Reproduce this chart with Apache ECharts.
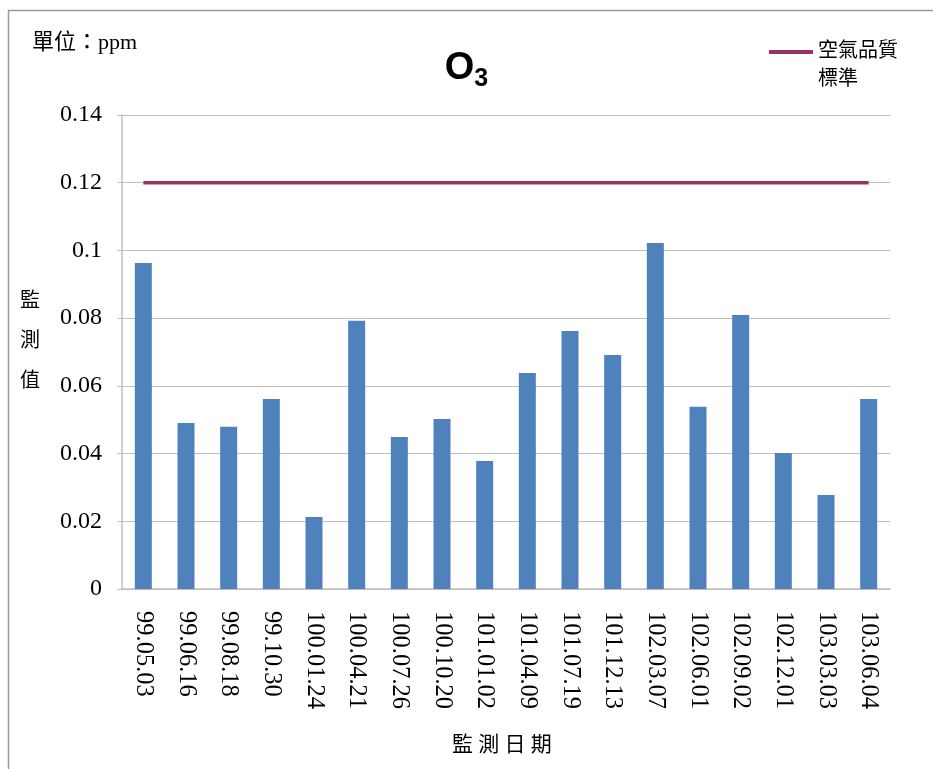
<!DOCTYPE html>
<html><head><meta charset="utf-8">
<script src="https://cdn.jsdelivr.net/npm/echarts@6/dist/echarts.min.js"></script>
<style>html,body{margin:0;padding:0;background:#fff}#c{width:933px;height:769px}</style>
</head><body><div id="c"></div>
<script>
var categories = ['99.05.03','99.06.16','99.08.18','99.10.30','100.01.24','100.04.21','100.07.26','100.10.20','101.01.02','101.04.09','101.07.19','101.12.13','102.03.07','102.06.01','102.09.02','102.12.01','103.03.03','103.06.04'];
var o3Values = [0.0963,0.049,0.0479,0.0561,0.0213,0.0792,0.0449,0.0502,0.0378,0.0638,0.0762,0.0691,0.1022,0.0538,0.0809,0.0402,0.0278,0.0561];
var standardValue = 0.12;
var standardValues = categories.map(function(){return standardValue;});
var yTicks = [0,0.02,0.04,0.06,0.08,0.1,0.12,0.14];

var mixed = '"Liberation Serif", "Noto Sans CJK TC", serif';
var serif = '"Liberation Serif", "DejaVu Serif", serif';
var chart = echarts.init(document.getElementById('c'), null, {renderer:'canvas'});
chart.setOption({
  animation:false,
  backgroundColor:'#fff',
  grid:{left:122,top:115,width:768,height:474,containLabel:false},
  title:{text:'{o|O}{s|3}',left:'center',top:40,
    textStyle:{rich:{o:{fontFamily:'"Liberation Sans", Arial, sans-serif',fontWeight:'bold',fontSize:38,color:'#000'},
      s:{fontFamily:'"Liberation Sans", Arial, sans-serif',fontWeight:'bold',fontSize:25,color:'#000',padding:[22,0,0,0]}}}},
  legend:{left:764,top:5,itemWidth:44,itemHeight:4,itemGap:8,icon:'rect',
    data:[{name:'空氣品質標準'}],
    formatter:function(){return ' \n空氣品質\n標準';},
    textStyle:{fontFamily:mixed,fontSize:20,color:'#000',lineHeight:28}},
  xAxis:{type:'category',data:categories,
    axisLine:{lineStyle:{color:'#bfbfbf',width:1.5}},axisTick:{show:false},
    axisLabel:{rotate:-90,interval:0,margin:22,fontFamily:serif,fontSize:24.5,color:'#000'}},
  yAxis:{type:'value',min:0,max:0.14,interval:0.02,
    axisLine:{show:true,lineStyle:{color:'#bfbfbf',width:1.5}},
    axisTick:{show:true,length:5,lineStyle:{color:'#bfbfbf'}},
    splitLine:{lineStyle:{color:'#bfbfbf',width:1}},
    axisLabel:{margin:20,fontFamily:serif,fontSize:24,color:'#000',
      formatter:function(v){var r=yTicks.filter(function(t){return Math.abs(t-v)<1e-9;});return r.length?String(+r[0].toFixed(2)):'';}}},
  series:[
    {name:'O3',type:'bar',data:o3Values,barWidth:17,itemStyle:{color:'#4f81bd'}},
    {name:'空氣品質標準',type:'line',data:standardValues,symbol:'none',lineStyle:{color:'#993366',width:3.5},itemStyle:{color:'#993366'}}
  ],
  graphic:[
    {type:'rect',shape:{x:8.5,y:10.5,width:940,height:800},style:{fill:'none',stroke:'#9a9a9a',lineWidth:1.5},silent:true},
    {type:'text',left:32,top:32,style:{text:'單位：ppm',fontFamily:mixed,fontSize:22,fill:'#000'}},
    {type:'text',left:20,top:282,style:{text:'監\n測\n值',fontFamily:mixed,fontSize:20,lineHeight:40,fill:'#000'}},
    {type:'text',left:452,top:735,style:{text:'監 測 日 期',fontFamily:mixed,fontSize:21,fill:'#000'}}
  ]
});
</script></body></html>
